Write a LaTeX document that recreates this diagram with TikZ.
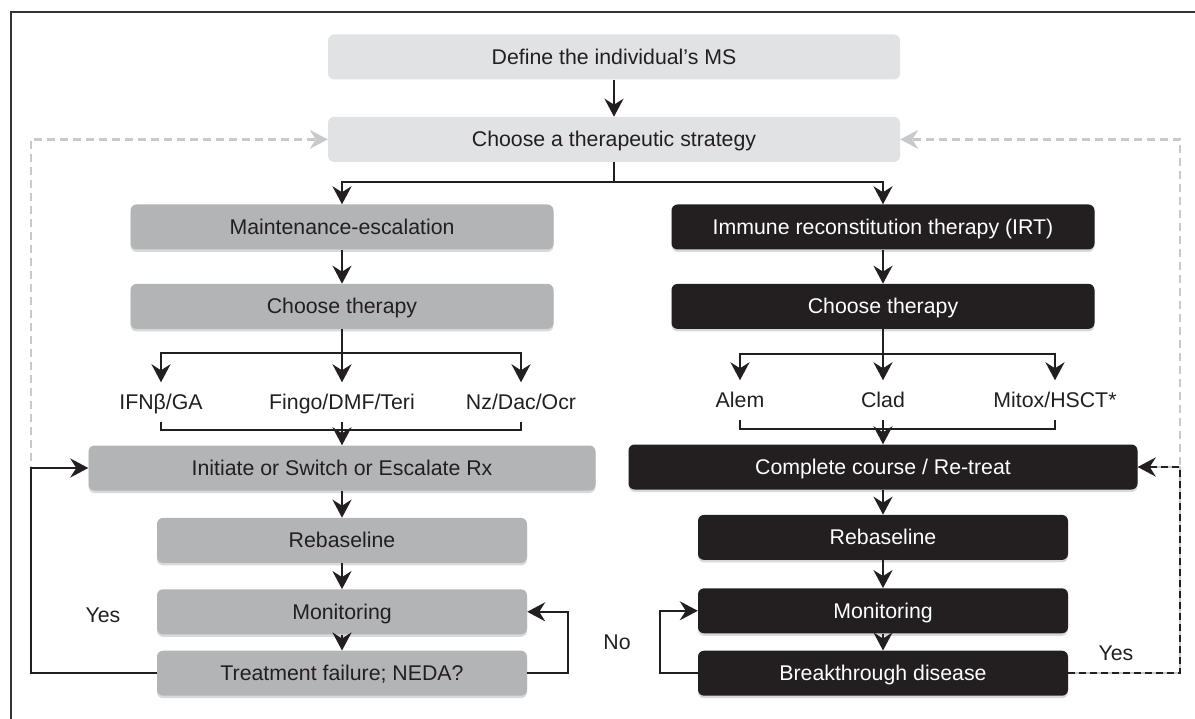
\documentclass[tikz,border=0pt]{standalone}
\usepackage{fontspec}
\setmainfont{Liberation Sans}
\usepackage{xcolor}
\usetikzlibrary{positioning,arrows.meta,shadows}
\definecolor{boxlight}{RGB}{225,226,228}
\definecolor{boxmid}{RGB}{179,180,182}
\definecolor{boxdark}{RGB}{35,31,32}
\definecolor{loopgray}{RGB}{200,201,203}

\begin{document}
\begin{tikzpicture}[
		x=1pt, y=-1pt,
		font=\fontsize{21.3}{25}\selectfont,
		box/.style={rounded corners=6pt, align=center, minimum height=45pt,
				inner sep=0pt, text=boxdark, text height=15pt, text depth=0pt},
		lightbox/.style={box, fill=boxlight, minimum width=572pt},
		midbox/.style={box, fill=boxmid,
				drop shadow={shadow xshift=0pt, shadow yshift=-2.5pt, opacity=.3}},
		darkbox/.style={box, fill=boxdark, text=white,
				drop shadow={shadow xshift=0pt, shadow yshift=-2.5pt, opacity=.3}},
		item/.style={inner xsep=0pt, inner ysep=12pt, text=boxdark,
				text height=15pt, text depth=0pt},
		note/.style={inner sep=0pt, text=boxdark, text height=15pt, text depth=0pt},
		link/.style={line width=2.6pt, draw=boxdark},
		arr/.style={link, -{Stealth[length=18pt, width=19pt, inset=6pt]}},
		back/.style={line width=2.4pt, draw=loopgray, dash pattern=on 8pt off 5pt,
				-{Stealth[length=18pt, width=19pt, inset=6pt]}}
		]
		\useasboundingbox (0,0) rectangle (1195,719);
		\draw[line width=1.2pt, draw=black!80] (11,719) -- (11,12) -- (1195,12);

		\node[lightbox] (define) at (614,57) {Define the individual’s MS};
		\node[lightbox, below=37pt of define] (strat) {Choose a therapeutic strategy};
		\node[midbox, minimum width=423pt] (maint) at (342,227) {Maintenance-escalation};
		\node[darkbox, minimum width=423pt] (irt) at (883,227)
		{Immune reconstitution therapy (IRT)};
		\node[midbox, minimum width=423pt, below=34pt of maint] (ctL) {Choose therapy};
		\node[darkbox, minimum width=423pt, below=34pt of irt] (ctR) {Choose therapy};
		\node[item] (ifn) at (161,402) {IFNβ/GA};
		\node[item] (fingo) at (342,402) {Fingo/DMF/Teri};
		\node[item] (nz) at (521,402) {Nz/Dac/Ocr};
		\node[item] (alem) at (740,400) {Alem};
		\node[item] (clad) at (883,400) {Clad};
		\node[item] (mitox) at (1055,400) {Mitox/HSCT*};
		\node[midbox, minimum width=507pt] (init) at (342,468)
		{Initiate or Switch or Escalate Rx};
		\node[darkbox, minimum width=509pt] (course) at (883,467)
		{Complete course / Re-treat};
		\node[midbox, minimum width=370pt, below=27pt of init] (rebL) {Rebaseline};
		\node[midbox, minimum width=370pt, below=26pt of rebL] (monL) {Monitoring};
		\node[midbox, minimum width=370pt, below=16pt of monL] (fail)
		{Treatment failure; NEDA?};
		\node[darkbox, minimum width=370pt, below=25pt of course] (rebR) {Rebaseline};
		\node[darkbox, minimum width=370pt, below=28pt of rebR] (monR) {Monitoring};
		\node[darkbox, minimum width=370pt, below=17pt of monR] (brk)
		{Breakthrough disease};
		\node[note] (yesL) at (103,615) {Yes};
		\node[note] (noR) at (617,642) {No};
		\node[note] (yesR) at (1116,653) {Yes};

		\draw[back] (fail.west) -- ++(-126,0) |- (strat.west);
		\draw[back, dash pattern=on 40pt off 0pt] (brk.east) -- ++(112,0) |- (course.east);
		\draw[back] (brk.east) ++(112,0) |- (strat.east);

		\draw[arr] (define) -- (strat);
		\coordinate (split) at (614,182);
		\draw[link] (strat.south) -- (split);
		\draw[arr] (split) -| (maint.north);
		\draw[arr] (split) -| (irt.north);
		\draw[arr] (maint) -- (ctL);
		\draw[arr] (irt) -- (ctR);

		\coordinate (forkL) at (342,353);
		\coordinate (joinL) at (342,430);
		\draw[link] (ctL.south) -- (forkL);
		\draw[arr] (forkL) -| (ifn.north);
		\draw[arr] (forkL) -- (fingo.north);
		\draw[arr] (forkL) -| (nz.north);
		\draw[link] (ifn.south) |- (joinL) -| (nz.south);
		\draw[arr] (fingo.south) -- (init.north);

		\coordinate (forkR) at (883,354);
		\coordinate (joinR) at (883,429);
		\draw[link] (ctR.south) -- (forkR);
		\draw[arr] (forkR) -| (alem.north);
		\draw[arr] (forkR) -- (clad.north);
		\draw[arr] (forkR) -| (mitox.north);
		\draw[link] (alem.south) |- (joinR) -| (mitox.south);
		\draw[arr] (clad.south) -- (course.north);

		\draw[arr] (init) -- (rebL);
		\draw[arr] (rebL) -- (monL);
		\draw[arr] (monL) -- (fail);
		\draw[arr] (course) -- (rebR);
		\draw[arr] (rebR) -- (monR);
		\draw[arr] (monR) -- (brk);

		\draw[arr, line width=2pt] (fail.west) -- ++(-126,0) |- (init.west);
		\draw[arr, line width=2pt] (fail.east) -- ++(41,0) |- (monL.east);
		\draw[arr, line width=2pt] (brk.west) -- ++(-38,0) |- (monR.west);
		\draw[arr, line width=2pt, dash pattern=on 7pt off 4pt]
		(brk.east) -- ++(112,0) |- (course.east);
	\end{tikzpicture}
\end{document}
